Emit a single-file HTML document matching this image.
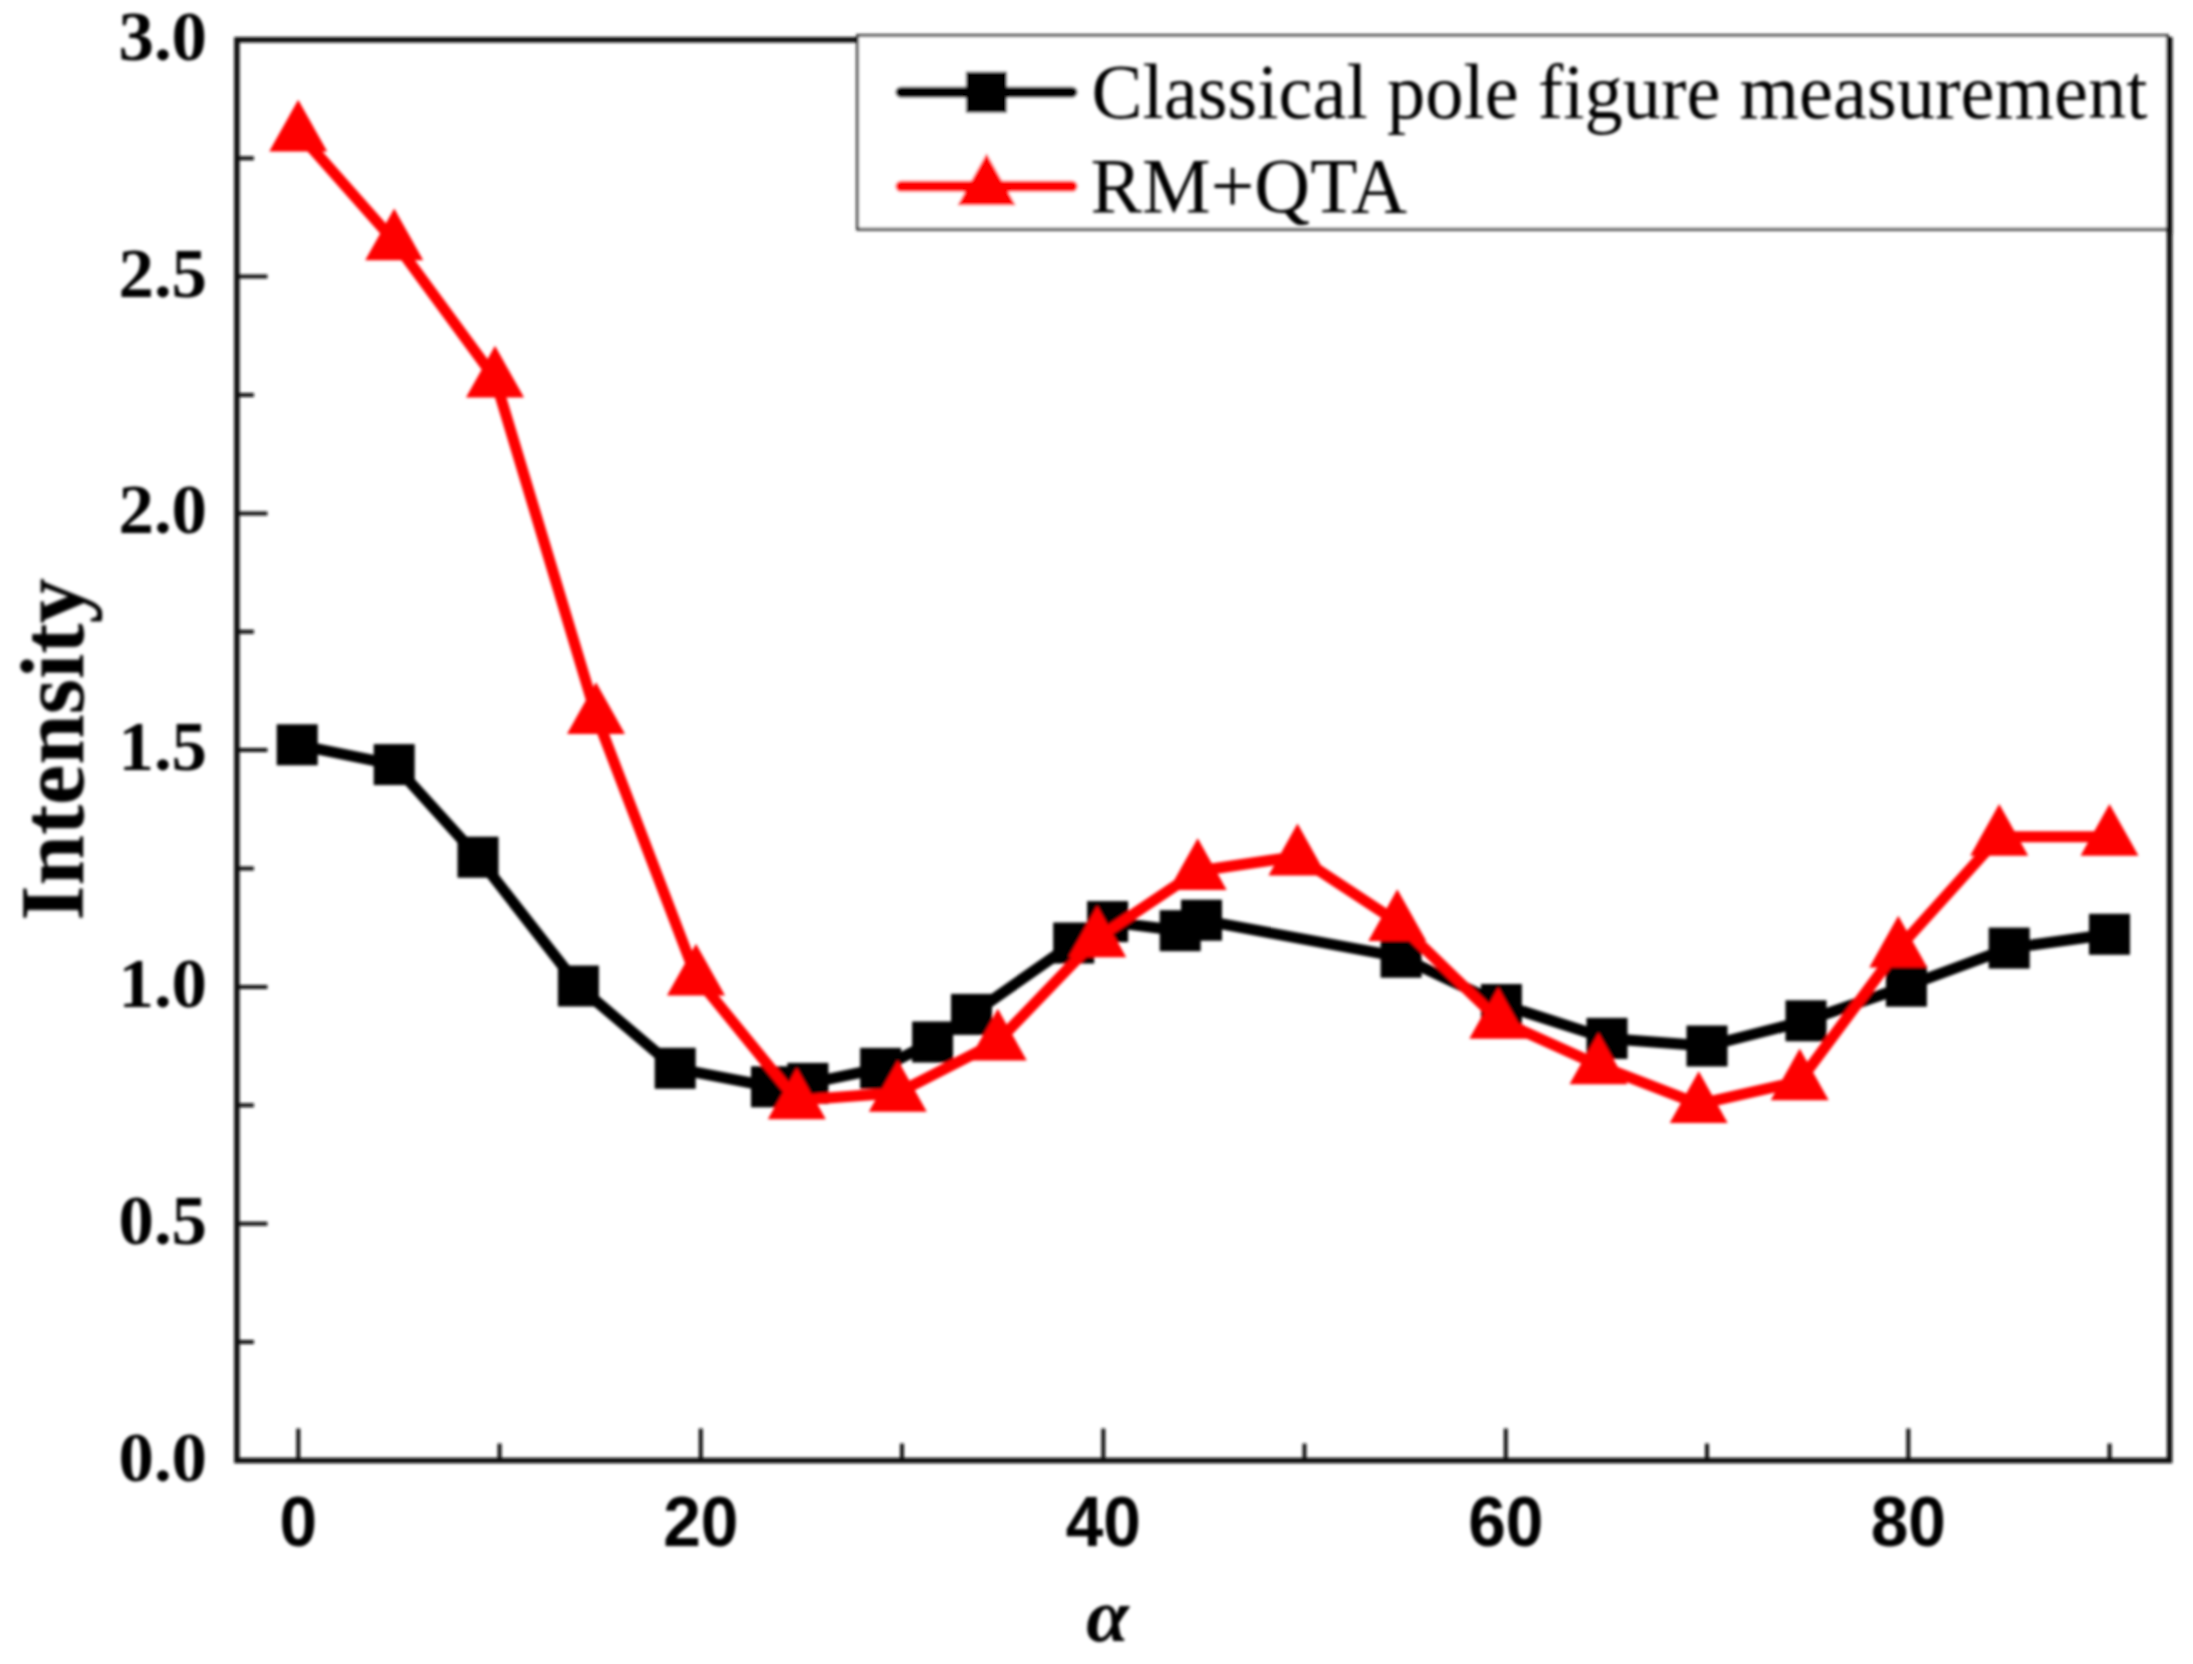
<!DOCTYPE html>
<html lang="en"><head><meta charset="utf-8"><title>Intensity vs alpha</title>
<style>
html,body{margin:0;padding:0;background:#fff;}
body{width:2193px;height:1664px;overflow:hidden;}
svg{display:block;}
.ser{font-family:"Liberation Serif","Times New Roman",serif;}
.san{font-family:"Liberation Sans",Arial,sans-serif;}
</style></head><body>
<svg width="2193" height="1664" viewBox="0 0 2193 1664">
<rect width="2193" height="1664" fill="#fff"/>
<g id="chart" filter="url(#soft)">

<rect x="236.9" y="39.8" width="1932.6999999999998" height="1420.7" fill="none" stroke="#111" stroke-width="5.5"/>
<path d="M236.9 1342.1h17 M236.9 1223.7h30.5 M236.9 1105.3h17 M236.9 986.9h30.5 M236.9 868.5h17 M236.9 750.1h30.5 M236.9 631.8h17 M236.9 513.4h30.5 M236.9 395.0h17 M236.9 276.6h30.5 M236.9 158.2h17 M298.3 1460.5v-32 M499.6 1460.5v-17 M700.8 1460.5v-32 M902.0 1460.5v-17 M1103.3 1460.5v-32 M1304.5 1460.5v-17 M1505.8 1460.5v-32 M1707.0 1460.5v-17 M1908.3 1460.5v-32 M2109.6 1460.5v-17" stroke="#111" stroke-width="4" fill="none"/>
<polyline points="297.2,744.8 394.2,764.6 478,857.2 578.4,986 675.2,1068.3 771.5,1086.8 807.9,1083.4 880.6,1068.4 932.6,1042 971.5,1014.4 1073.7,943 1107.6,921.6 1180.2,930.7 1201.5,920.2 1401.1,957.2 1501.4,1004.5 1607,1038.4 1707,1046 1806,1020.8 1906.4,986.2 2009.2,948.1 2109.5,934.3" fill="none" stroke="#000" stroke-width="11" stroke-linejoin="round" stroke-linecap="round"/>
<rect x="276.7" y="724.3" width="41" height="41" fill="#000"/>
<rect x="373.7" y="744.1" width="41" height="41" fill="#000"/>
<rect x="457.5" y="836.7" width="41" height="41" fill="#000"/>
<rect x="557.9" y="965.5" width="41" height="41" fill="#000"/>
<rect x="654.7" y="1047.8" width="41" height="41" fill="#000"/>
<rect x="751.0" y="1066.3" width="41" height="41" fill="#000"/>
<rect x="787.4" y="1062.9" width="41" height="41" fill="#000"/>
<rect x="860.1" y="1047.9" width="41" height="41" fill="#000"/>
<rect x="912.1" y="1021.5" width="41" height="41" fill="#000"/>
<rect x="951.0" y="993.9" width="41" height="41" fill="#000"/>
<rect x="1053.2" y="922.5" width="41" height="41" fill="#000"/>
<rect x="1087.1" y="901.1" width="41" height="41" fill="#000"/>
<rect x="1159.7" y="910.2" width="41" height="41" fill="#000"/>
<rect x="1181.0" y="899.7" width="41" height="41" fill="#000"/>
<rect x="1380.6" y="936.7" width="41" height="41" fill="#000"/>
<rect x="1480.9" y="984.0" width="41" height="41" fill="#000"/>
<rect x="1586.5" y="1017.9" width="41" height="41" fill="#000"/>
<rect x="1686.5" y="1025.5" width="41" height="41" fill="#000"/>
<rect x="1785.5" y="1000.3" width="41" height="41" fill="#000"/>
<rect x="1885.9" y="965.7" width="41" height="41" fill="#000"/>
<rect x="1988.7" y="927.6" width="41" height="41" fill="#000"/>
<rect x="2089.0" y="913.8" width="41" height="41" fill="#000"/>
<polyline points="298.2,132.5 394.2,241.2 495,378.5 596,715 696,976.6 796.8,1100.3 897.8,1092.8 997.8,1041.6 1097.2,938.2 1197.7,871 1297.5,856.4 1397.3,922 1498.3,1019.8 1598.5,1065.3 1698.7,1104.1 1799.7,1081.3 1898.3,948.6 1999.2,836.8 2109.5,836.8" fill="none" stroke="#fe0000" stroke-width="11" stroke-linejoin="round" stroke-linecap="round"/>
<polygon points="298.2,99.7 269.2,151.5 327.2,151.5" fill="#fe0000"/>
<polygon points="394.2,208.39999999999998 365.2,260.2 423.2,260.2" fill="#fe0000"/>
<polygon points="495,345.7 466,397.5 524,397.5" fill="#fe0000"/>
<polygon points="596,682.2 567,734 625,734" fill="#fe0000"/>
<polygon points="696,943.8000000000001 667,995.6 725,995.6" fill="#fe0000"/>
<polygon points="796.8,1067.5 767.8,1119.3 825.8,1119.3" fill="#fe0000"/>
<polygon points="897.8,1060.0 868.8,1111.8 926.8,1111.8" fill="#fe0000"/>
<polygon points="997.8,1008.8 968.8,1060.6 1026.8,1060.6" fill="#fe0000"/>
<polygon points="1097.2,905.4000000000001 1068.2,957.2 1126.2,957.2" fill="#fe0000"/>
<polygon points="1197.7,838.2 1168.7,890 1226.7,890" fill="#fe0000"/>
<polygon points="1297.5,823.6 1268.5,875.4 1326.5,875.4" fill="#fe0000"/>
<polygon points="1397.3,889.2 1368.3,941 1426.3,941" fill="#fe0000"/>
<polygon points="1498.3,987.0 1469.3,1038.8 1527.3,1038.8" fill="#fe0000"/>
<polygon points="1598.5,1032.5 1569.5,1084.3 1627.5,1084.3" fill="#fe0000"/>
<polygon points="1698.7,1071.3 1669.7,1123.1 1727.7,1123.1" fill="#fe0000"/>
<polygon points="1799.7,1048.5 1770.7,1100.3 1828.7,1100.3" fill="#fe0000"/>
<polygon points="1898.3,915.8000000000001 1869.3,967.6 1927.3,967.6" fill="#fe0000"/>
<polygon points="1999.2,804.0 1970.2,855.8 2028.2,855.8" fill="#fe0000"/>
<polygon points="2109.5,804.0 2080.5,855.8 2138.5,855.8" fill="#fe0000"/>
<rect x="857.5" y="35.5" width="1310.0" height="193.7" fill="#fff" stroke="#222" stroke-width="2.8"/>
<line x1="2169.6" y1="37.05" x2="2169.6" y2="234.2" stroke="#111" stroke-width="5.5"/>
<line x1="901" y1="92.2" x2="1072" y2="92.2" stroke="#000" stroke-width="11" stroke-linecap="round"/>
<rect x="965.9" y="71.7" width="41" height="41" fill="#000"/>
<line x1="901" y1="186.3" x2="1072" y2="186.3" stroke="#fe0000" stroke-width="11" stroke-linecap="round"/>
<polygon points="986.6,153.5 957.6,205.3 1015.6,205.3" fill="#fe0000"/>
</g>
<g id="labels" filter="url(#softT)" fill="#000">
<text class="ser" x="1091.5" y="118" font-size="78.8" textLength="1056" lengthAdjust="spacingAndGlyphs">Classical pole figure measurement</text>
<text class="ser" x="1090.5" y="212" font-size="78.8" textLength="316.5" lengthAdjust="spacingAndGlyphs">RM+QTA</text>
<text class="ser" x="207" y="1480.5" font-size="70.8" font-weight="bold" text-anchor="end">0.0</text>
<text class="ser" x="207" y="1243.7" font-size="70.8" font-weight="bold" text-anchor="end">0.5</text>
<text class="ser" x="207" y="1006.9" font-size="70.8" font-weight="bold" text-anchor="end">1.0</text>
<text class="ser" x="207" y="770.1" font-size="70.8" font-weight="bold" text-anchor="end">1.5</text>
<text class="ser" x="207" y="533.4" font-size="70.8" font-weight="bold" text-anchor="end">2.0</text>
<text class="ser" x="207" y="296.6" font-size="70.8" font-weight="bold" text-anchor="end">2.5</text>
<text class="ser" x="207" y="59.8" font-size="70.8" font-weight="bold" text-anchor="end">3.0</text>
<text class="san" x="298.3" y="1546" font-size="70.3" font-weight="bold" text-anchor="middle" textLength="37.6" lengthAdjust="spacingAndGlyphs">0</text>
<text class="san" x="700.8" y="1546" font-size="70.3" font-weight="bold" text-anchor="middle" textLength="75.2" lengthAdjust="spacingAndGlyphs">20</text>
<text class="san" x="1103.3" y="1546" font-size="70.3" font-weight="bold" text-anchor="middle" textLength="75.2" lengthAdjust="spacingAndGlyphs">40</text>
<text class="san" x="1505.8" y="1546" font-size="70.3" font-weight="bold" text-anchor="middle" textLength="75.2" lengthAdjust="spacingAndGlyphs">60</text>
<text class="san" x="1908.3" y="1546" font-size="70.3" font-weight="bold" text-anchor="middle" textLength="75.2" lengthAdjust="spacingAndGlyphs">80</text>
<text class="ser" x="1107.5" y="1641" font-size="77" font-weight="bold" font-style="italic" text-anchor="middle">α</text>
<text class="ser" transform="translate(83.2 749.5) rotate(-90)" font-size="90.7" font-weight="bold" text-anchor="middle">Intensity</text>
</g>
<defs><filter id="soft" x="0" y="0" width="100%" height="100%" filterUnits="userSpaceOnUse"><feGaussianBlur stdDeviation="1.4"/></filter><filter id="softT" x="0" y="0" width="100%" height="100%" filterUnits="userSpaceOnUse"><feGaussianBlur stdDeviation="1.4"/></filter></defs>
</svg></body></html>
